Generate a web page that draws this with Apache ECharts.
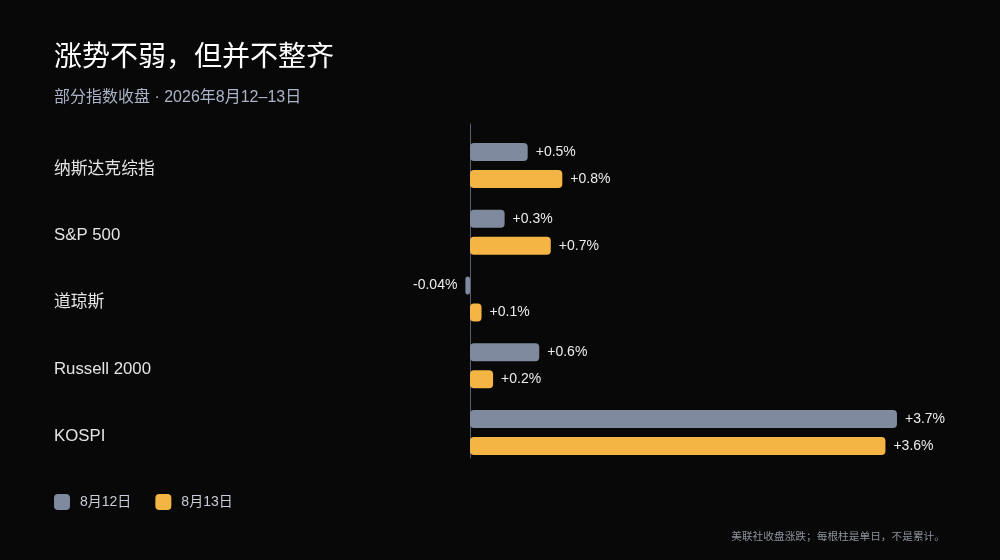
<!DOCTYPE html>
<html><head><meta charset="utf-8">
<script src="https://cdn.jsdelivr.net/npm/echarts@6/dist/echarts.min.js"></script>
<style>html,body{margin:0;padding:0;background:#080808;}#c{width:1000px;height:560px;}</style>
</head><body><div id="c"></div>
<script>
const categories = ['纳斯达克综指', 'S&P 500', '道琼斯', 'Russell 2000', 'KOSPI'];
const seriesNames = ['8月12日', '8月13日'];
const aug12 = [0.5, 0.3, -0.04, 0.6, 3.7];
const aug13 = [0.8, 0.7, 0.1, 0.2, 3.6];
const xMin = -0.5, xMax = 4.0;

const chart = echarts.init(document.getElementById('c'));
const FONT = '"Liberation Sans", Arial, "Noto Sans CJK SC", sans-serif';
function fmt(p){ const v = p.value; return (v > 0 ? '+' : '') + v + '%'; }
function mkData(arr){
  return arr.map(v => ({ value: v, label: { position: v < 0 ? 'left' : 'right' } }));
}
chart.setOption({
  backgroundColor: '#080808',
  textStyle: { fontFamily: FONT },
  title: [
    { text: '涨势不弱，但并不整齐', left: 54, top: 44, padding: 0,
      textStyle: { color: '#ffffff', fontSize: 28, fontWeight: 'normal', fontFamily: FONT } },
    { text: '部分指数收盘 · 2026年8月12–13日', left: 54, top: 90, padding: 0,
      textStyle: { color: '#aab3c8', fontSize: 16, fontWeight: 'normal', fontFamily: FONT } },
    { text: '美联社收盘涨跌；每根柱是单日，不是累计。', right: 55, top: 532, padding: 0,
      textStyle: { color: '#8c919c', fontSize: 10.7, fontWeight: 'normal', fontFamily: FONT } }
  ],
  legend: {
    data: seriesNames, left: 54, top: 494, padding: 0, itemWidth: 16, itemHeight: 16, itemGap: 24,
    icon: 'roundRect',
    textStyle: { color: '#c9cdd8', fontSize: 14, padding: [0, 0, 0, 5], fontFamily: FONT }
  },
  grid: [
    { left: 412.3, right: 68.4, top: 132, height: 334, containLabel: false },
    { left: 412.3, right: 68.4, top: 124, height: 334, containLabel: false }
  ],
  xAxis: [
    { type: 'value', gridIndex: 0, min: xMin, max: xMax, show: false },
    { type: 'value', gridIndex: 1, min: xMin, max: xMax, axisLabel: { show: false },
      axisLine: { show: false }, axisTick: { show: false }, splitLine: { show: false } }
  ],
  yAxis: [
    { type: 'category', gridIndex: 0, data: categories, inverse: true,
      axisLine: { show: false, onZero: false }, axisTick: { show: false },
      axisLabel: { align: 'left', verticalAlign: 'middle', margin: 358.3,
        formatter: '{a|{value}}',
        rich: { a: { color: '#e4e4e4', fontSize: 16.8, fontFamily: FONT, padding: [7, 0, 0, 0] } } } },
    { type: 'category', gridIndex: 1, data: categories, inverse: true,
      axisLine: { show: true, onZero: true, lineStyle: { color: '#566074', width: 1 } },
      axisTick: { show: false }, axisLabel: { show: false } }
  ],
  series: [
    { name: seriesNames[0], type: 'bar', xAxisIndex: 0, yAxisIndex: 0, data: mkData(aug12),
      barWidth: 18, barGap: '50%', itemStyle: { color: '#7f8a9e', borderRadius: 4 },
      label: { show: true, distance: 8, color: '#ececec', fontSize: 14, fontFamily: FONT, formatter: fmt } },
    { name: seriesNames[1], type: 'bar', xAxisIndex: 0, yAxisIndex: 0, data: mkData(aug13),
      barWidth: 18, barGap: '50%', itemStyle: { color: '#f4b545', borderRadius: 4 },
      label: { show: true, distance: 8, color: '#ececec', fontSize: 14, fontFamily: FONT, formatter: fmt } }
  ]
});
</script></body></html>
